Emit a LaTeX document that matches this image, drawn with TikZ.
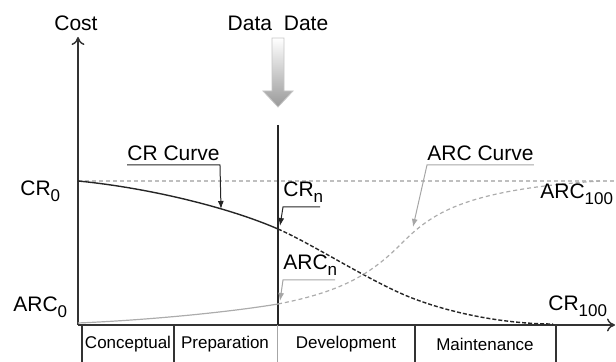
\documentclass[tikz,border=0pt]{standalone}
\usepackage{fontspec}
\setmainfont{Liberation Sans}
\usetikzlibrary{arrows.meta,calc,positioning}
\newcommand{\lowsub}[1]{\raisebox{-3pt}{\fontsize{8.5}{9}\selectfont #1}}
\tikzset{axis/.style={
            -{To[length=4pt,width=6.5pt]},
            line width=0.7pt,
            black!80},
        crline/.style={
            line width=0.7pt,
            black!85},
        arcline/.style={
            line width=0.6pt,
            gray!65},
        lbl/.style={
            font=\fontsize{10.5}{12}\selectfont,
            inner sep=0pt},
        ullbl/.style={
            lbl,
            inner ysep=2pt},
        phase/.style={
            font=\fontsize{8.5}{10}\selectfont,
            inner sep=0pt},
        leader/.style={
            -{Latex[length=4pt,width=3pt]},
            line width=0.5pt}
    }
\begin{document}
\begin{tikzpicture}[x=0.5pt,y=-0.5pt]
    \useasboundingbox (0,0) rectangle (616,362);
    \coordinate (o) at (78,325);
    \coordinate (ytop) at (78,37);
    \coordinate (xend) at (615,325);

    % axes and the CR0 level
    \draw[gray!50,line width=0.6pt,dash pattern=on 2pt off 1.5pt] (78,181) -- (615,181);
    \draw[axis] (o) -- (ytop);
    \draw[axis] (o) -- (xend);
    \node[lbl] (cost) at (76,23) {Cost};

    % data date
    \node[lbl] (datadate) at (278,23) {Data\hspace{3pt} Date};
    \shade[top color=white,bottom color=gray!80,draw=gray!45,line width=0.4pt]
        (272,38) -- (284,38) -- (284,91) -- (293,91) -- (278,107) -- (263,91) -- (272,91) -- cycle;
    \draw[black!85,line width=1pt] (278,125) -- (278,325);

    % curves
    \draw[crline] (78,181) .. controls (150,188) and (230,208) .. (278,229);
    \draw[crline,dash pattern=on 2pt off 1pt] (278,229) .. controls (310,243) and (360,275) .. (400,293)
        .. controls (440,311) and (500,324) .. (553,324);
    \draw[arcline] (78,323) .. controls (150,320) and (230,312) .. (278,304);
    \draw[arcline,dash pattern=on 2pt off 1.5pt] (278,304) .. controls (340,292) and (370,275) .. (400,245)
        .. controls (430,215) and (460,190) .. (600,181);

    % end labels
    \node[lbl,anchor=base west] (crzero) at (20,196) {CR\lowsub{0}};
    \node[lbl,anchor=base west] (arczero) at (13,312) {ARC\lowsub{0}};
    \node[lbl,anchor=base west] (archundred) at (540,199) {ARC\lowsub{100}};
    \node[lbl,anchor=base west] (crhundred) at (548,311) {CR\lowsub{100}};

    % labels with leaders
    \node[ullbl,anchor=south west] (crcurve) at (127,165) {CR Curve};
    \coordinate (crtip) at (221,209);
    \draw[leader,black!85] (crcurve.south west) -- (crcurve.south east) -- (crtip);

    \node[ullbl,anchor=south west] (arccurve) at (427,165) {ARC Curve};
    \coordinate (arctip) at (413,227);
    \draw[leader,gray!70] (arccurve.south east) -- (arccurve.south west) -- (arctip);

    \node[lbl,anchor=base west] (crn) at (283,197) {CR\lowsub{n}};
    \coordinate (crntip) at (280,226);
    \draw[leader,black!85] ($(crn.base west)+(37,10)$) -- ($(crn.base west)+(0,10)$) -- (crntip);

    \node[lbl,anchor=base west] (arcn) at (283,270) {ARC\lowsub{n}};
    \coordinate (arcntip) at (280,301);
    \draw[leader,gray!70] ($(arcn.base west)+(52,10)$) -- ($(arcn.base west)+(0,10)$) -- (arcntip);

    % phases
    \draw[black!80,line width=0.6pt] (82,325) -- (82,362);
    \draw[black!80,line width=0.6pt] (174,325) -- (174,362);
    \draw[gray!70,line width=0.5pt] (277,325) -- (277,362);
    \draw[black!80,line width=0.6pt] (415,325) -- (415,362);
    \draw[black!80,line width=0.6pt] (556,325) -- (556,362);
    \node[phase] (concept) at (128,344) {Conceptual};
    \node[phase] (prep) at (225,344) {Preparation};
    \node[phase] (devel) at (346,344) {Development};
    \node[phase] (maint) at (485,344) {Maintenance};
\end{tikzpicture}
\end{document}
